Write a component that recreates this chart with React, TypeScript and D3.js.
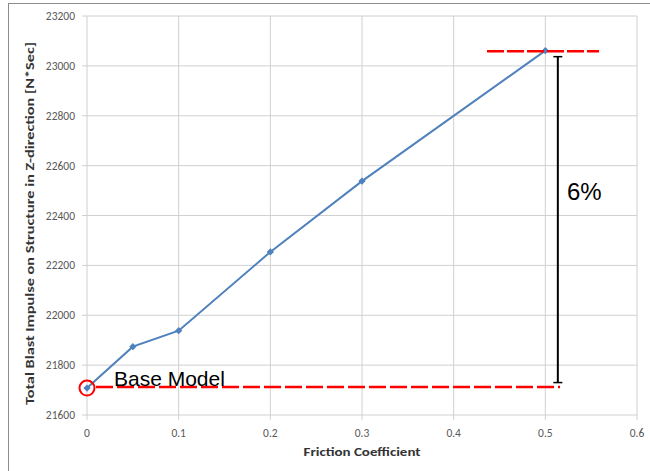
import React from "react";
import * as d3 from "d3";

const frictionCoefficients = [0, 0.05, 0.1, 0.2, 0.3, 0.5];
const totalImpulse = [21708, 21874, 21938, 22254, 22538, 23061];
const xTicks = [0, 0.1, 0.2, 0.3, 0.4, 0.5, 0.6];
const yTicks = [21600, 21800, 22000, 22200, 22400, 22600, 22800, 23000, 23200];
const baseValue = 21710;
const peakValue = 23061;
const increaseLabel = "6%";
const baseLabel = "Base Model";

const W = 650;
const H = 471;
const plot = { left: 87, right: 637, top: 16, bottom: 415 };

export default function App() {
  const x = d3.scaleLinear().domain([0, 0.6]).range([plot.left, plot.right]);
  const y = d3.scaleLinear().domain([21600, 23200]).range([plot.bottom, plot.top]);
  const line = d3
    .line<number>()
    .x((_, i) => x(frictionCoefficients[i]))
    .y((d) => y(d));
  const diamond = d3.symbol().type(d3.symbolDiamond2).size(34)() as string;

  const tickFont = "Carlito, 'Open Sans', 'Liberation Sans', sans-serif";
  const annoFont = "'Liberation Sans', Arial, sans-serif";

  const barX = x(0.5) + 12.5;
  const barTop = y(peakValue) + 6;
  const barBottom = y(baseValue) - 5;

  return (
    <svg
      width={W}
      height={H}
      style={{ position: "absolute", left: 0, top: 0, background: "#fff" }}
    >
      {/* frame */}
      <line x1={8} x2={W} y1={3.5} y2={3.5} stroke="#8c8c8c" strokeWidth={1} />
      <line x1={8.5} x2={8.5} y1={3} y2={H} stroke="#8c8c8c" strokeWidth={1} />

      {/* grid */}
      {yTicks.map((t) => (
        <line
          key={"gy" + t}
          x1={plot.left - 5}
          x2={plot.right}
          y1={y(t)}
          y2={y(t)}
          stroke="#d0d0d0"
          strokeWidth={1}
        />
      ))}
      {xTicks.map((t) => (
        <line
          key={"gx" + t}
          x1={x(t)}
          x2={x(t)}
          y1={plot.top}
          y2={plot.bottom + 5}
          stroke="#d0d0d0"
          strokeWidth={1}
        />
      ))}

      {/* tick labels */}
      {yTicks.map((t) => (
        <text
          key={"ly" + t}
          x={75}
          y={y(t)}
          dy="0.35em"
          textAnchor="end"
          fontFamily={tickFont}
          fontSize={11.5}
          fill="#595959"
        >
          {t}
        </text>
      ))}
      {xTicks.map((t) => (
        <text
          key={"lx" + t}
          x={x(t)}
          y={433}
          dy="0.35em"
          textAnchor="middle"
          fontFamily={tickFont}
          fontSize={11.5}
          fill="#595959"
        >
          {t}
        </text>
      ))}

      {/* axis titles */}
      <text
        x={362}
        y={452}
        dy="0.35em"
        textAnchor="middle"
        fontFamily={tickFont}
        fontWeight="bold"
        fontSize={12}
        fill="#333333"
        textLength={117}
        lengthAdjust="spacingAndGlyphs"
      >
        Friction Coefficient
      </text>
      <text
        transform={`translate(30,${(plot.top + plot.bottom) / 2 + 8}) rotate(-90)`}
        dy="0.35em"
        textAnchor="middle"
        fontFamily={tickFont}
        fontWeight="bold"
        fontSize={12}
        fill="#333333"
        textLength={363}
        lengthAdjust="spacingAndGlyphs"
      >
        Total Blast Impulse on Structure in Z-direction [N*Sec]
      </text>

      {/* data series */}
      <path d={line(totalImpulse) || ""} fill="none" stroke="#4f81bd" strokeWidth={2} />
      {totalImpulse.map((v, i) => (
        <path
          key={"m" + i}
          d={diamond}
          transform={`translate(${x(frictionCoefficients[i])},${y(v)})`}
          fill="#4f81bd"
        />
      ))}

      {/* reference dashes */}
      <line
        x1={x(0) + 9}
        x2={560}
        y1={y(baseValue) - 0.5}
        y2={y(baseValue) - 0.5}
        stroke="#ff0000"
        strokeWidth={2.5}
        strokeDasharray="17 4"
      />
      <line
        x1={487}
        x2={599}
        y1={y(peakValue) + 0.5}
        y2={y(peakValue) + 0.5}
        stroke="#ff0000"
        strokeWidth={2.5}
        strokeDasharray="17 3"
      />
      <circle
        cx={x(0)}
        cy={y(totalImpulse[0])}
        r={7.5}
        fill="none"
        stroke="#ff0000"
        strokeWidth={2}
      />

      {/* increase bar */}
      <line x1={barX} x2={barX} y1={barTop} y2={barBottom} stroke="#000" strokeWidth={2} />
      <line x1={barX - 4.5} x2={barX + 4.5} y1={barTop} y2={barTop} stroke="#000" strokeWidth={1.5} />
      <line x1={barX - 4.5} x2={barX + 4.5} y1={barBottom} y2={barBottom} stroke="#000" strokeWidth={1.5} />

      <text x={567} y={200} fontFamily={annoFont} fontSize={24} fill="#000">
        {increaseLabel}
      </text>
      <text x={114} y={386} fontFamily={annoFont} fontSize={21} fill="#000">
        {baseLabel}
      </text>
    </svg>
  );
}
